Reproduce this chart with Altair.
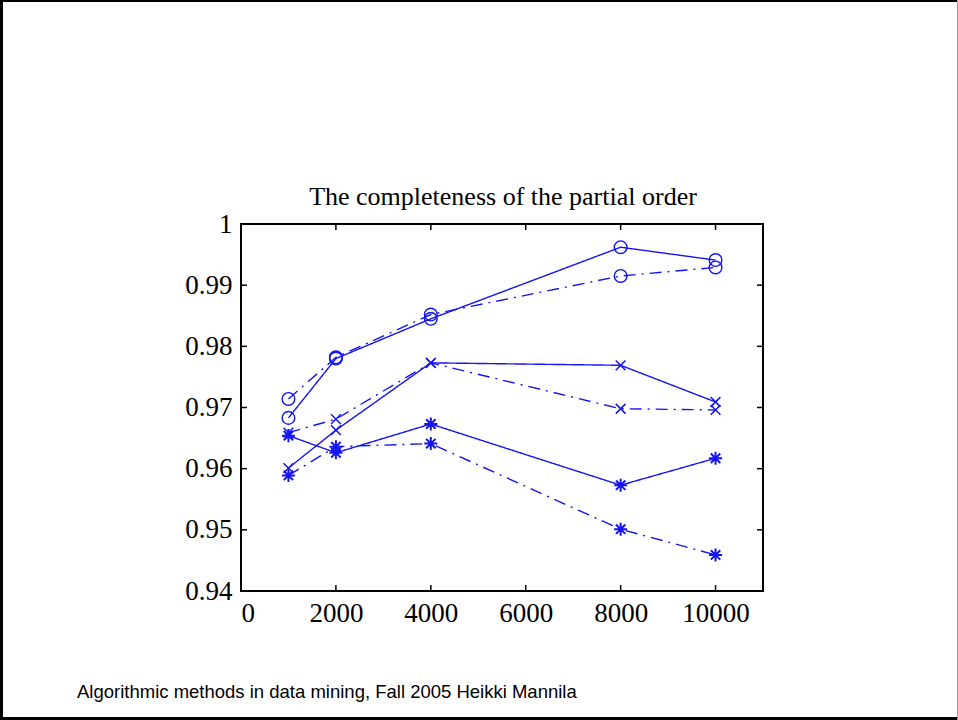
import altair as alt
import pandas as pd

# ---- data ----
x_vals = [1000, 2000, 4000, 8000, 10000]

circle_solid = [0.9683, 0.9780, 0.9845, 0.9962, 0.9941]
circle_dash = [0.9714, 0.9782, 0.9852, 0.9915, 0.9929]
cross_solid = [0.9601, 0.9663, 0.9773, 0.9769, 0.9709]
cross_dash = [0.9659, 0.9681, 0.9773, 0.9698, 0.9696]
star_solid = [0.9654, 0.9626, 0.9673, 0.9573, 0.9617]
star_dash = [0.9589, 0.9636, 0.9641, 0.9501, 0.9459]

x_ticks = [0, 2000, 4000, 6000, 8000, 10000]
y_ticks = [0.94, 0.95, 0.96, 0.97, 0.98, 0.99, 1.0]

title_text = "The completeness of the partial order"
footer_text = "Algorithmic methods in data mining, Fall 2005 Heikki Mannila"

series = [
    ("o solid", "o", "solid", circle_solid),
    ("o dash", "o", "dashdot", circle_dash),
    ("x solid", "x", "solid", cross_solid),
    ("x dash", "x", "dashdot", cross_dash),
    ("* solid", "*", "solid", star_solid),
    ("* dash", "*", "dashdot", star_dash),
]
rows = []
for name, mk, style, vals in series:
    for xv, yv in zip(x_vals, vals):
        rows.append({"n": xv, "v": yv, "series": name, "marker": mk, "style": style})
df = pd.DataFrame(rows)

BLUE = "#1414f0"
W, H = 522, 367
SERIF = "Liberation Serif"

xs = alt.Scale(domain=[0, 11000], nice=False, zero=False)
ys = alt.Scale(domain=[0.94, 1.0], nice=False, zero=False)

X_PATH = "M-1,-1L1,1M-1,1L1,-1"
STAR_PATH = "M-1,0L1,0M0,-1L0,1M-0.72,-0.72L0.72,0.72M-0.72,0.72L0.72,-0.72"

base = alt.Chart(df)

lines = base.mark_line(color=BLUE, strokeWidth=1.4).encode(
    x=alt.X("n:Q", scale=xs, axis=alt.Axis(values=x_ticks, format="d", title=None, grid=False,
                                            ticks=False, domain=False, labelFont=SERIF,
                                            labelFontSize=27, labelColor="black", labelPadding=9)),
    y=alt.Y("v:Q", scale=ys, axis=alt.Axis(values=y_ticks, format=".2~f", title=None, grid=False,
                                            ticks=False, domain=False, labelFont=SERIF,
                                            labelFontSize=27, labelColor="black", labelPadding=9)),
    detail="series:N",
    strokeDash=alt.StrokeDash("style:N", scale=alt.Scale(domain=["solid", "dashdot"],
                                                          range=[[1, 0], [12, 6, 2, 6]]), legend=None),
)


def marker_layer(mk, shape, size, sw):
    return base.transform_filter(alt.datum.marker == mk).mark_point(
        filled=False, color=BLUE, opacity=1, shape=shape, size=size, strokeWidth=sw
    ).encode(x=alt.X("n:Q", scale=xs), y=alt.Y("v:Q", scale=ys))


pts_o = marker_layer("o", "circle", 160, 1.4)
pts_x = marker_layer("x", X_PATH, 95, 1.5)
pts_s = marker_layer("*", STAR_PATH, 170, 2.0)

xt = alt.Chart(pd.DataFrame({"t": x_ticks}))
yt = alt.Chart(pd.DataFrame({"t": y_ticks}))
TL = 6
tick_bottom = xt.mark_rule(color="black", strokeWidth=1.5).encode(
    x=alt.X("t:Q", scale=xs), y=alt.value(H - TL), y2=alt.value(H))
tick_top = xt.mark_rule(color="black", strokeWidth=1.5).encode(
    x=alt.X("t:Q", scale=xs), y=alt.value(0), y2=alt.value(TL))
tick_left = yt.mark_rule(color="black", strokeWidth=1.5).encode(
    y=alt.Y("t:Q", scale=ys), x=alt.value(0), x2=alt.value(TL))
tick_right = yt.mark_rule(color="black", strokeWidth=1.5).encode(
    y=alt.Y("t:Q", scale=ys), x=alt.value(W - TL), x2=alt.value(W))

title = alt.Chart(pd.DataFrame({"t": [title_text]})).mark_text(
    align="center", baseline="alphabetic", font=SERIF, fontSize=26, color="black"
).encode(text="t:N", x=alt.value(W / 2 + 1), y=alt.value(-19))

footer = alt.Chart(pd.DataFrame({"t": [footer_text]})).mark_text(
    align="left", baseline="alphabetic", font="Liberation Sans", fontSize=18.5, color="black"
).encode(text="t:N", x=alt.value(-164), y=alt.value(474))

# slide frame
one = pd.DataFrame({"a": [0]})
frame_top = alt.Chart(one).mark_rule(color="black", strokeWidth=2).encode(
    x=alt.value(-241), x2=alt.value(717), y=alt.value(-223))
frame_left = alt.Chart(one).mark_rule(color="black", strokeWidth=3).encode(
    x=alt.value(-239.5), y=alt.value(-224), y2=alt.value(496))
frame_bottom = alt.Chart(one).mark_rule(color="black", strokeWidth=3).encode(
    x=alt.value(-241), x2=alt.value(717), y=alt.value(494.5))
frame_right = alt.Chart(one).mark_rule(color="#999999", strokeWidth=1).encode(
    x=alt.value(716.5), y=alt.value(-224), y2=alt.value(496))

chart = alt.layer(
    lines, pts_o, pts_x, pts_s, tick_bottom, tick_top, tick_left, tick_right, title, footer,
    frame_top, frame_left, frame_bottom, frame_right
).properties(
    width=W, height=H,
    padding={"left": 241, "top": 224, "right": 195, "bottom": 129},
    autosize=alt.AutoSizeParams(type="none"),
    background="white",
).configure_view(stroke="black", strokeWidth=2)

chart.save("out.html", embed_options={"renderer": "svg", "actions": False})
